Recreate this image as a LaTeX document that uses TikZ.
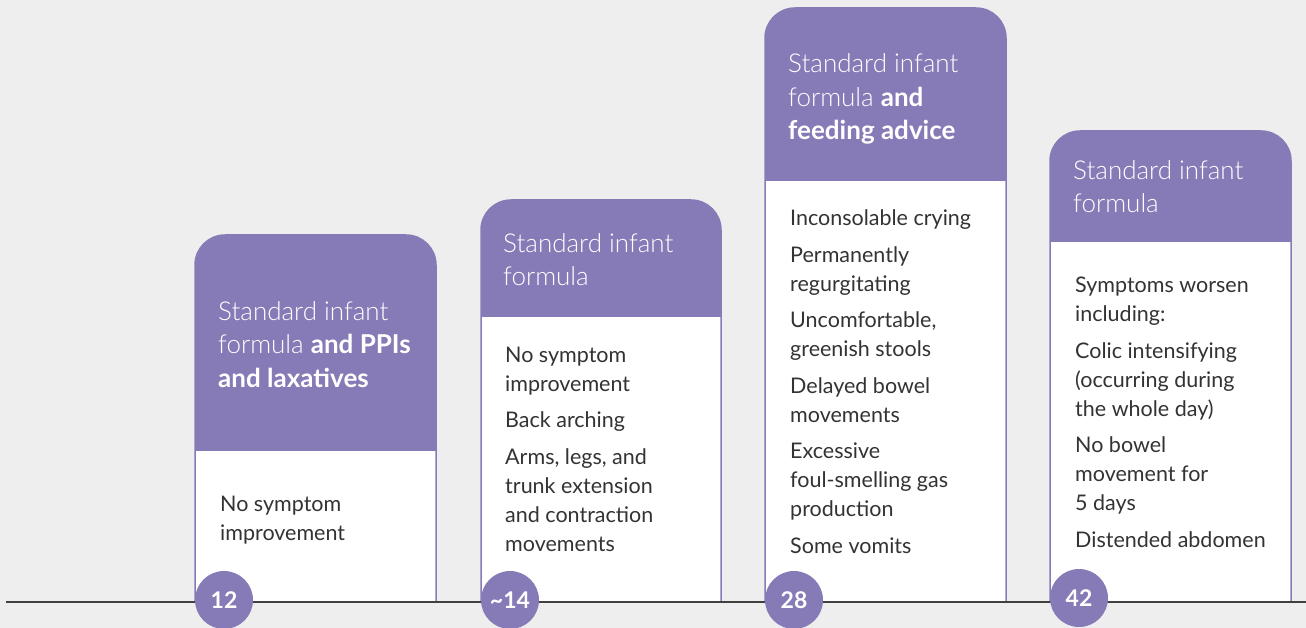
\documentclass[tikz,border=0pt]{standalone}
\usepackage{fontspec}
\setmainfont{Lato}
\IfFontExistsTF{Lato Light}{\newfontfamily\hdfont{Lato Light}}{\newfontfamily\hdfont{Lato}}
\newcommand\hdbf[1]{{\normalfont\bfseries #1}}
\definecolor{pur}{HTML}{877BB7}
\definecolor{bgc}{HTML}{EEEEEE}
\definecolor{axisc}{HTML}{404040}
\definecolor{bodyc}{HTML}{333333}
\tikzset{
  hd/.style={font=\hdfont\fontsize{26}{33.5}\selectfont, text=white, align=left, inner sep=0pt, anchor=base west},
  bd/.style={font=\fontsize{21.5}{29}\selectfont, text=bodyc, align=left, inner sep=0pt, anchor=base west},
  num/.style={circle, fill=pur, minimum size=58pt, inner sep=0pt, text=white, font=\bfseries\fontsize{23}{23}\selectfont},
  cardline/.style={draw=pur, line width=1.5pt}
}
\newcommand\mycard[4]{% left, right, top, header bottom
  \begin{scope}
    \clip (0,0) rectangle (1306,602);
    \begin{scope}
      \clip[rounded corners=30pt] (#1,#3) rectangle (#2,660);
      \fill[white] (#1,#3) rectangle (#2,660);
      \fill[pur] (#1,#3) rectangle (#2,#4);
    \end{scope}
    \draw[cardline, rounded corners=30pt] (#1,#3) rectangle (#2,660);
  \end{scope}
}
\begin{document}
\begin{tikzpicture}[x=1pt,y=-1pt]
\fill[bgc] (0,0) rectangle (1306,628);
\useasboundingbox (0,0) rectangle (1306,628);

\mycard{195}{436}{235}{451}
\mycard{481}{721}{200}{317}
\mycard{765}{1006}{8}{181}
\mycard{1050}{1291}{131}{242}

% anchors are at the baseline of the last line
\node[hd] (h1) at (218,387) {Standard infant\\formula \hdbf{and PPIs}\\\hdbf{and laxatives}};
\node[hd] (h2) at (503,286) {Standard infant\\formula};
\node[hd] (h3) at (788,140) {Standard infant\\formula \hdbf{and}\\\hdbf{feeding advice}};
\node[hd] (h4) at (1073,213) {Standard infant\\formula};

\node[bd] (b1) at (220,540.5) {No symptom\\improvement};
\node[bd] (b2) at (505,551) {No symptom\\improvement\\[7.5pt]Back arching\\[7.5pt]Arms, legs, and\\trunk extension\\and contraction\\movements};
\node[bd] (b3) at (790,553) {Inconsolable crying\\[7.5pt]Permanently\\regurgitating\\[7.5pt]Uncomfortable,\\greenish stools\\[7.5pt]Delayed bowel\\movements\\[7.5pt]Excessive\\foul-smelling gas\\production\\[7.5pt]Some vomits};
\node[bd] (b4) at (1075,547) {Symptoms worsen\\including:\\[7.5pt]Colic intensifying\\(occurring during\\the whole day)\\[7.5pt]No bowel\\movement for\\5 days\\[7.5pt]Distended abdomen};

\coordinate (ax0) at (6,602);
\coordinate (ax1) at (1306,602);
\draw[axisc, line width=2pt] (ax0) -- (ax1);

\node[num] (n1) at (224,600) {12};
\node[num] (n2) at (510,600) {\textasciitilde14};
\node[num] (n3) at (794,600) {28};
\node[num] (n4) at (1079,598) {42};
\end{tikzpicture}
\end{document}
